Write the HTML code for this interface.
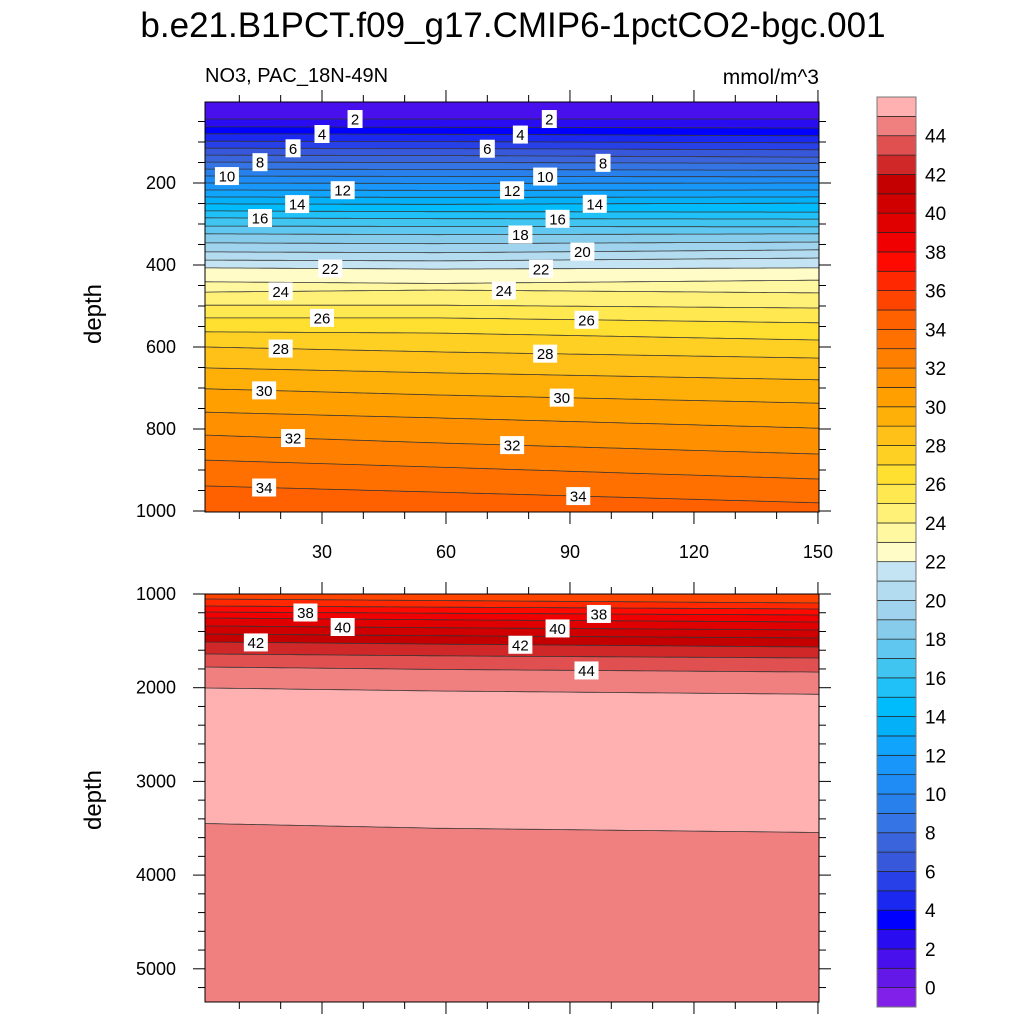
<!DOCTYPE html>
<html><head><meta charset="utf-8"><style>
html,body{margin:0;padding:0;background:#fff;}
svg{display:block;font-family:"Liberation Sans",Arial,sans-serif;}
</style></head><body>
<svg id="chart" width="1024" height="1024" viewBox="0 0 1024 1024" xmlns="http://www.w3.org/2000/svg">
<text x="513" y="37" font-size="35" text-anchor="middle">b.e21.B1PCT.f09_g17.CMIP6-1pctCO2-bgc.001</text>
<text x="205" y="82" font-size="20">NO3, PAC_18N-49N</text>
<text x="819" y="84" font-size="21" text-anchor="end">mmol/m^3</text>
<text transform="translate(101,314) rotate(-90)" font-size="24" text-anchor="middle">depth</text>
<text transform="translate(101,800) rotate(-90)" font-size="24" text-anchor="middle">depth</text>
<defs>
<clipPath id="clipTop"><rect x="205" y="102" width="614" height="410"/></clipPath>
<clipPath id="clipBot"><rect x="205" y="594" width="614" height="408"/></clipPath>
</defs>
<g id="topFill" clip-path="url(#clipTop)"></g>
<g id="botFill" clip-path="url(#clipBot)"></g>
<g id="axes"></g>
<g id="labels"></g>
<g id="cbar"></g>
</svg>
<script>
// ---- data ----
const colX = [2, 58, 150];
const topLevels = [2,3,4,5,6,7,8,9,10,11,12,13,14,15,16,17,18,19,20,21,22,23,24,25,26,27,28,29,30,31,32,33,34,35];
const topDepthLeft  = [44,63,80,98,115,132,149,166,183,200,217,234,251,268,285,305,324,346,368,388,407,441,466,498,529,563,600,651,702,759,815,876,939,1002];
const topDepthMid   = [44,64,81,99,116,133,150,167,184,201,218,235,252,270,287,306,326,348,370,390,410,445,461,498,529,566,612,663,717,773,834,893,954,1015];
const topDepthRight = [44,66,85,102,119,137,152,169,185,200,217,234,249,271,288,307,324,344,363,383,407,437,468,505,541,583,627,680,737,798,861,922,980,1040];
const botLevels = [36,37,38,39,40,41,42,43,44,45];
const botDepthLeft  = [1053,1128,1192,1256,1341,1427,1512,1640,1779,2003];
const botDepthMid   = [1070,1140,1205,1275,1360,1445,1535,1660,1805,2035];
const botDepthRight = [1096,1160,1224,1299,1384,1470,1566,1683,1833,2070];
const deep45Depth = [3450, 3500, 3545];
const cbarLabels = [0,2,4,6,8,10,12,14,16,18,20,22,24,26,28,30,32,34,36,38,40,42,44];
const topLabelVals = [2,2,4,4,6,6,8,8,10,10,12,12,14,14,16,16,18,20,22,22,24,24,26,26,28,28,30,30,32,32,34,34];
const topLabelXs  = [38,85,30,78,23,70,15,98,7,84,35,76,24,96,15,87,78,93,32,83,20,74,30,94,20,84,16,88,23,76,16,92];
const botLabelVals = [38,38,40,40,42,42,44];
const botLabelXs  = [26,97,35,87,14,78,94];
const colors = ["#8020e8","#6418e8","#4810ec","#2a0cf0","#0000ff","#1a28f0","#2840e8","#3858dc","#3a64dc","#3474e4","#2880ec","#1e8cf4","#1896fa","#10a4fc","#04b0f8","#00bcfc","#20c0f8","#40c4f0","#60c8f0","#88ccec","#a0d4ee","#b4dcf0","#c4e4f4","#fffcc8","#fff8a0","#fff078","#ffe850","#ffe030","#ffd024","#ffc018","#ffb008","#ffa000","#ff9000","#ff8000","#ff7000","#ff6000","#ff4400","#ff2800","#ff0a00","#f00000","#e00000","#d00000","#c40000","#d02828","#e05050","#f08080","#ffb0b0"];
// ---- scales ----
const xs = v => 198 + v * 4.133;
const ysTop = d => 101 + d * 0.41;
const ysBot = d => 594 + (d - 1000) * 0.0937;
const NS = "http://www.w3.org/2000/svg";
function mk(tag, attrs, parent) {
  const e = document.createElementNS(NS, tag);
  for (const k in attrs) e.setAttribute(k, attrs[k]);
  parent.appendChild(e);
  return e;
}
function interp(cols, x) {
  if (x <= colX[0]) return cols[0];
  for (let i = 0; i < colX.length - 1; i++) {
    if (x <= colX[i + 1]) { const t = (x - colX[i]) / (colX[i + 1] - colX[i]); return cols[i] + t * (cols[i + 1] - cols[i]); }
  }
  return cols[cols.length - 1];
}
function linePts(cols, ys) {
  const pts = [];
  for (let x = 0; x <= 152; x += 2) pts.push([xs(x), ys(interp(cols, x))]);
  return pts;
}
function drawPanel(g, levels, L, M, R, ys, topY, bgColor) {
  const bg = mk('rect', {x: 205, y: topY, width: 614, height: 420, fill: bgColor}, g);
  
  
  for (let i = levels.length - 1; i >= 0; i--) {
    const pts = linePts([L[i], M[i], R[i]], ys);
    const d = 'M' + xs(0) + ',' + (topY - 5) + ' L' + pts.map(p => p[0].toFixed(1) + ',' + p[1].toFixed(1)).join(' L') + ' L' + xs(152) + ',' + (topY - 5) + 'Z';
    const band = mk('path', {d: d, fill: colors[levels[i]]}, g);
    
    
  }
  for (let i = 0; i < levels.length; i++) {
    const pts = linePts([L[i], M[i], R[i]], ys);
    const ln = mk('polyline', {points: pts.map(p => p[0].toFixed(1) + ',' + p[1].toFixed(1)).join(' '), fill: 'none', stroke: '#333', 'stroke-width': 0.8}, g);
    
    
  }
}
const gTop = document.getElementById('topFill');
drawPanel(gTop, topLevels, topDepthLeft, topDepthMid, topDepthRight, ysTop, 102, colors[36]);
const gBot = document.getElementById('botFill');
const bbg = mk('rect', {x: 205, y: 594, width: 614, height: 410, fill: colors[45]}, gBot);


{
  const pts = linePts(deep45Depth, ysBot);
  const d = 'M' + xs(0) + ',590 L' + pts.map(p => p[0].toFixed(1) + ',' + p[1].toFixed(1)).join(' L') + ' L' + xs(152) + ',590Z';
  const band = mk('path', {d: d, fill: colors[46]}, gBot);
  
  
}
drawPanel(gBot, botLevels, botDepthLeft, botDepthMid, botDepthRight, ysBot, 594, 'none');
{
  const pts = linePts(deep45Depth, ysBot);
  const ln = mk('polyline', {points: pts.map(p => p[0].toFixed(1) + ',' + p[1].toFixed(1)).join(' '), fill: 'none', stroke: '#333', 'stroke-width': 0.8}, gBot);
  
  
}
// labels
const gL = document.getElementById('labels');
function addLabel(val, x, cols, ys) {
  const px = xs(x), py = ys(interp(cols, x));
  const w = String(val).length * 9 + 6;
  const g = mk('g', {}, gL);
  
  
  mk('rect', {x: px - w / 2, y: py - 9, width: w, height: 18, fill: '#fff'}, g);
  const t = mk('text', {x: px, y: py + 5.5, 'font-size': 15, 'text-anchor': 'middle'}, g);
  t.textContent = val;
}
topLabelVals.forEach((v, i) => {
  const k = topLevels.indexOf(v);
  addLabel(v, topLabelXs[i], [topDepthLeft[k], topDepthMid[k], topDepthRight[k]], ysTop);
});
botLabelVals.forEach((v, i) => {
  const k = botLevels.indexOf(v);
  addLabel(v, botLabelXs[i], [botDepthLeft[k], botDepthMid[k], botDepthRight[k]], ysBot);
});
// axes
const gA = document.getElementById('axes');
function frame(y0, y1, name) {
  const r = mk('rect', {x: 205, y: y0, width: 614, height: y1 - y0, fill: 'none', stroke: '#000', 'stroke-width': 1}, gA);
  
  
}
frame(102, 512, 'top-panel-frame');
frame(594, 1002, 'bottom-panel-frame');
function tick(x1, y1, x2, y2) { mk('line', {x1: x1, y1: y1, x2: x2, y2: y2, stroke: '#000', 'stroke-width': 1}, gA); }
function txt(x, y, s, anchor, name) {
  const t = mk('text', {x: x, y: y, 'font-size': 18, 'text-anchor': anchor}, gA);
  
  
  t.textContent = s;
}
for (let v = 10; v <= 150; v += 10) {
  const x = xs(v), maj = v % 30 === 0;
  const L = maj ? 12 : 7;
  tick(x, 102, x, 102 - L); tick(x, 512, x, 512 + L);
  tick(x, 594, x, 594 - L); tick(x, 1002, x, 1002 + L);
  if (maj) txt(x, 558, String(v), 'middle', 'x-tick-label-' + v);
}
for (let d = 50; d <= 1000; d += 50) {
  const y = ysTop(d), maj = d % 200 === 0;
  const L = maj ? 12 : 7;
  tick(205, y, 205 - L, y); tick(819, y, 819 + L, y);
  if (maj) txt(176, y + 6, String(d), 'end', 'top-y-tick-label-' + d);
}
for (let d = 1000; d <= 5300; d += 200) {
  const y = ysBot(d), maj = d % 1000 === 0;
  const L = maj ? 12 : 7;
  tick(205, y, 205 - L, y); tick(819, y, 819 + L, y);
  if (maj) txt(176, y + 6, String(d), 'end', 'bottom-y-tick-label-' + d);
}
// colorbar
const gC = document.getElementById('cbar');
const boxH = 910 / 47;
for (let k = 0; k < 47; k++) {
  const y = 97 + (46 - k) * boxH;
  const r = mk('rect', {x: 877, y: y, width: 39, height: boxH, fill: colors[k], stroke: '#222', 'stroke-width': 0.7}, gC);
  
  
}
mk('rect', {x: 877, y: 97, width: 39, height: 910, fill: 'none', stroke: '#777', 'stroke-width': 1}, gC);
cbarLabels.forEach(v => {
  const y = 97 + (46 - v) * boxH;
  const t = mk('text', {x: 925, y: y + 7, 'font-size': 19}, gC);
  
  
  t.textContent = v;
});
</script>
</body></html>
